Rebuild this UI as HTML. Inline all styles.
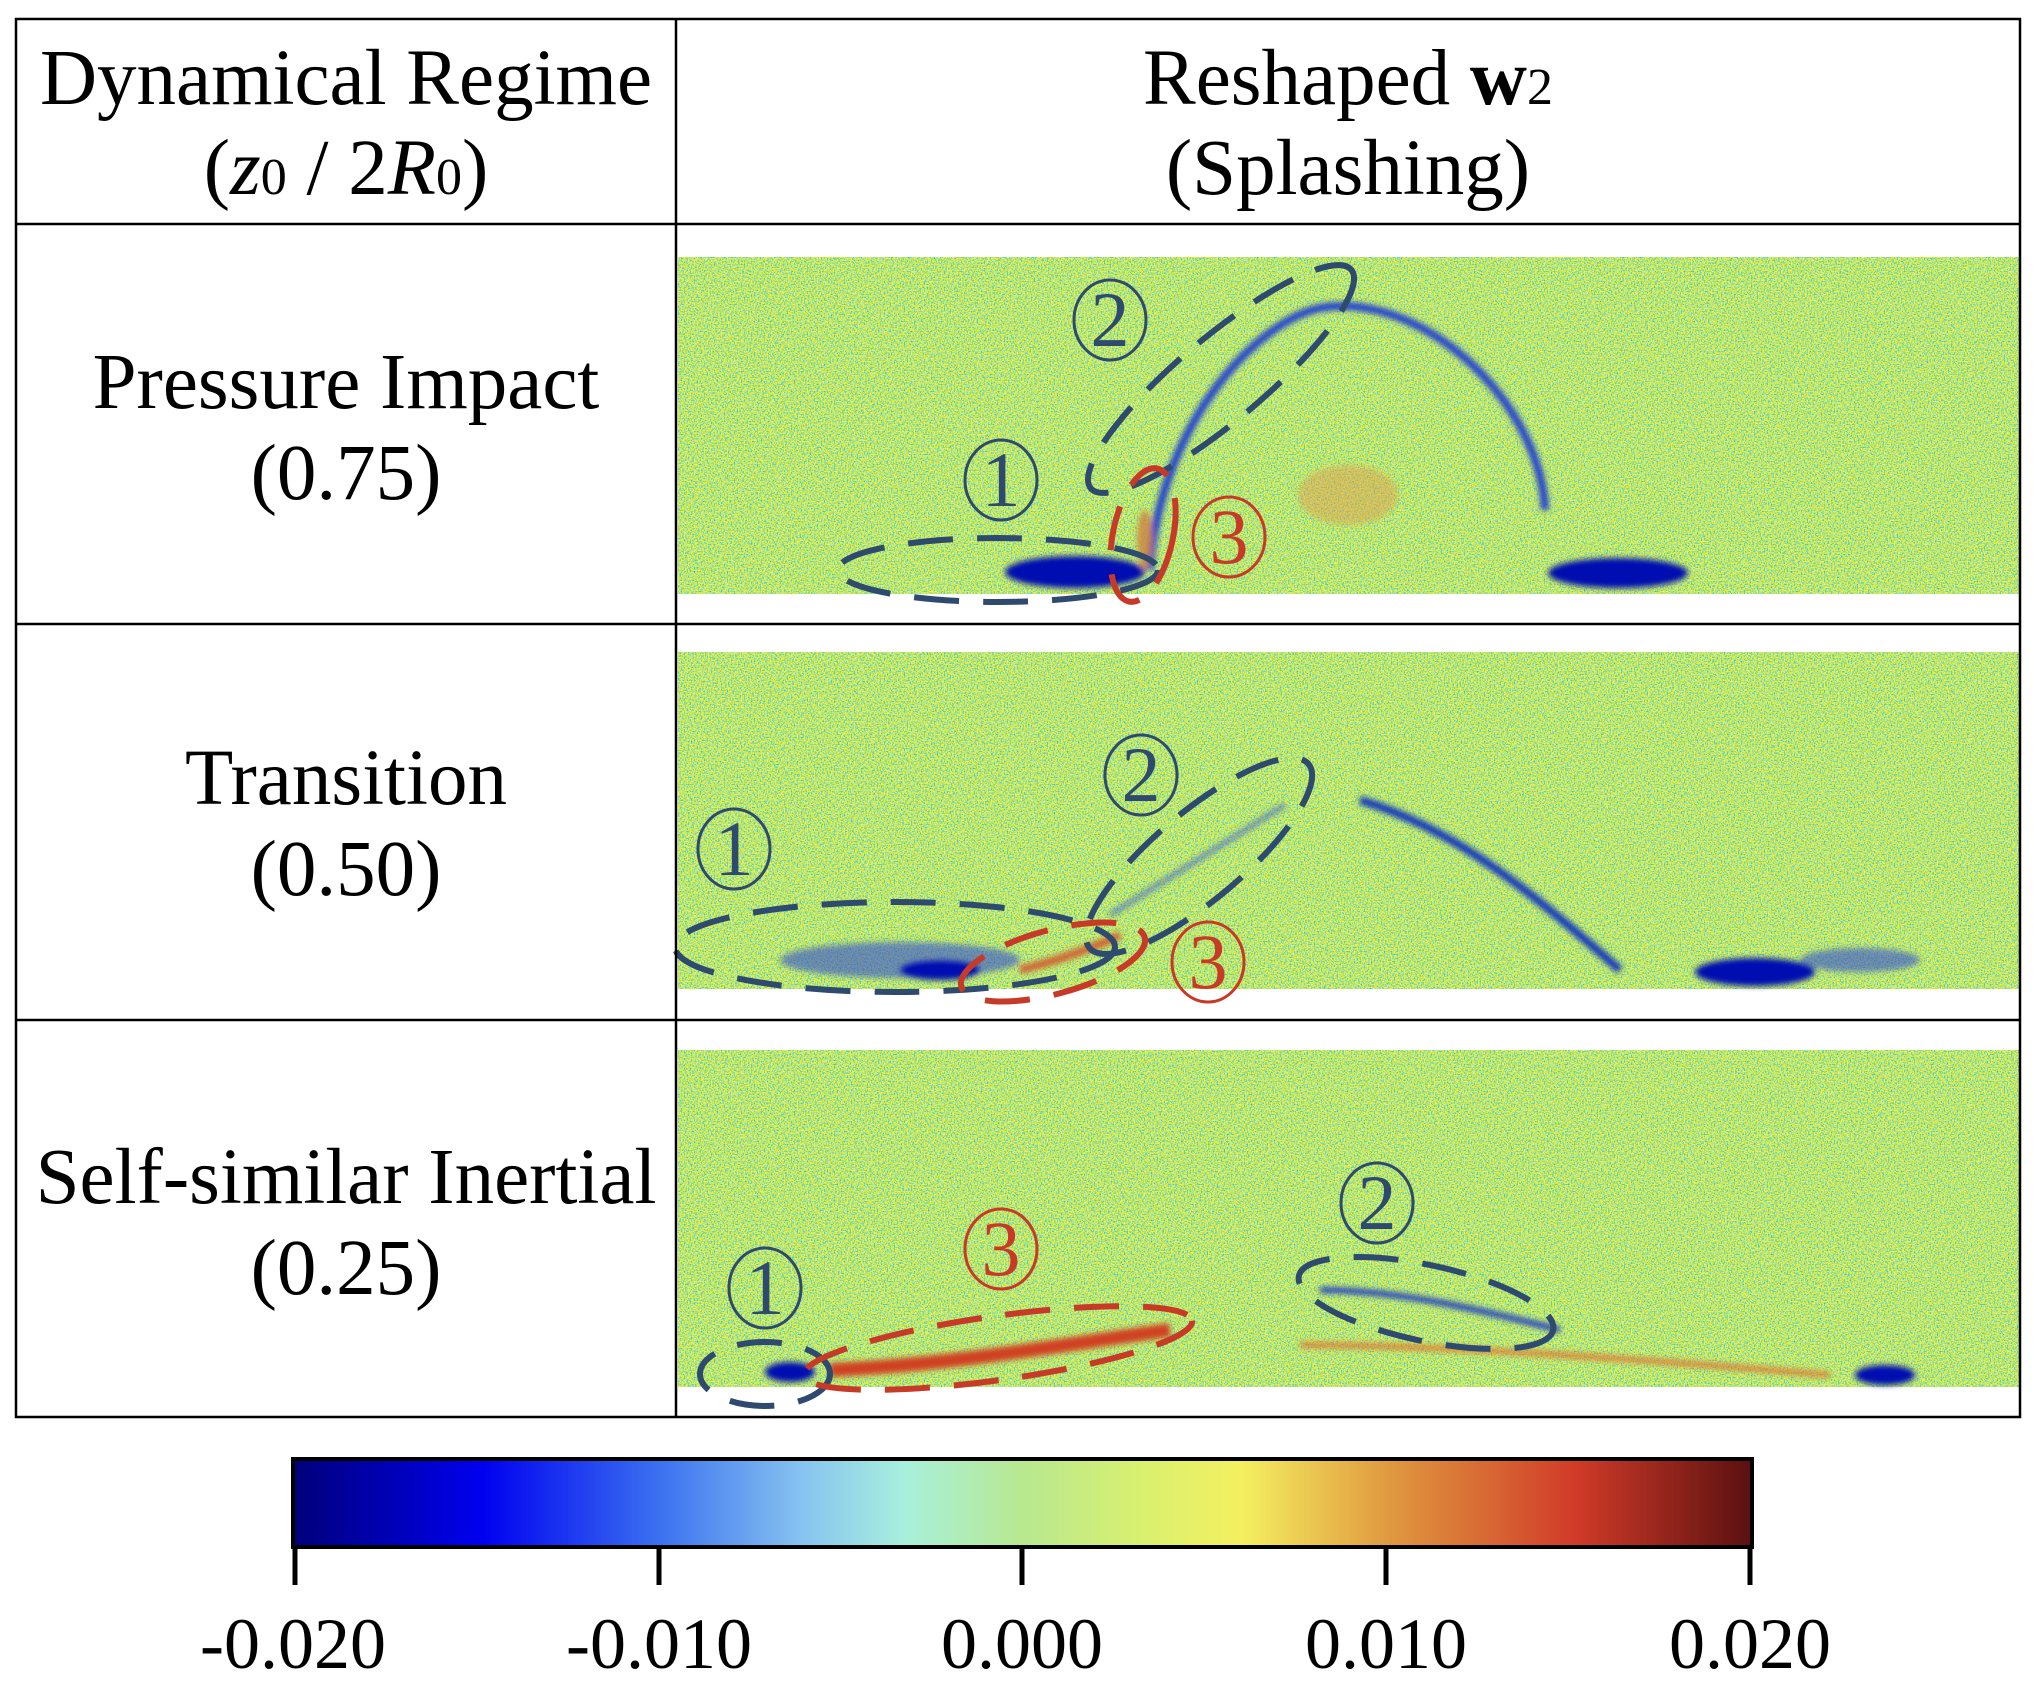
<!DOCTYPE html>
<html><head><meta charset="utf-8"><style>
html,body{margin:0;padding:0;background:#fff;}
svg{display:block;}
text{font-family:"Liberation Serif",serif;fill:#000;}
</style></head><body>
<svg width="2033" height="1695" viewBox="0 0 2033 1695" xmlns="http://www.w3.org/2000/svg">
<defs>
<filter id="noise" x="0" y="0" width="100%" height="100%">
<feTurbulence type="fractalNoise" baseFrequency="0.7" numOctaves="2" seed="3" result="t"/>
<feColorMatrix type="matrix" values="3 -1.5 0 0 -0.2  1.2 0.3 0 0 0.05  -2 3 0 0 -0.3  0 0 0 0 0.75" />
</filter>
<filter id="blur"><feGaussianBlur stdDeviation="3"/></filter>
<linearGradient id="jet" x1="0" x2="1" y1="0" y2="0">
<stop offset="0" stop-color="#00007a"/>
<stop offset="0.13" stop-color="#0000f0"/>
<stop offset="0.25" stop-color="#3a70f0"/>
<stop offset="0.35" stop-color="#88c4f0"/>
<stop offset="0.42" stop-color="#a8f0dc"/>
<stop offset="0.5" stop-color="#b8e890"/>
<stop offset="0.58" stop-color="#d8f070"/>
<stop offset="0.65" stop-color="#f4f060"/>
<stop offset="0.75" stop-color="#e09a40"/>
<stop offset="0.88" stop-color="#d03a28"/>
<stop offset="1" stop-color="#5a1010"/>
</linearGradient>
</defs>

<g>
<rect x="678" y="257" width="1341" height="337" fill="#c6e08c"/>
<rect x="678" y="257" width="1341" height="337" filter="url(#noise)"/>
<rect x="678" y="652" width="1341" height="337" fill="#c6e08c"/>
<rect x="678" y="652" width="1341" height="337" filter="url(#noise)"/>
<rect x="678" y="1050" width="1341" height="337" fill="#c6e08c"/>
<rect x="678" y="1050" width="1341" height="337" filter="url(#noise)"/>
</g>

<g filter="url(#blur)">
<ellipse cx="1075" cy="572" rx="70" ry="16" fill="#0010b0"/>
<ellipse cx="1618" cy="573" rx="70" ry="15" fill="#0010b0"/>
<path d="M1150 570 C1160 420 1260 320 1320 308 C1420 290 1540 400 1545 510" fill="none" stroke="#2040d0" stroke-width="8"/>
<ellipse cx="1348" cy="495" rx="50" ry="30" fill="#e0a050" opacity="0.5"/>
<ellipse cx="1145" cy="540" rx="8" ry="30" fill="#d08040" opacity="0.8"/>
</g>
<g filter="url(#blur)">
<ellipse cx="900" cy="960" rx="120" ry="18" fill="#3050d0" opacity="0.6"/>
<ellipse cx="940" cy="970" rx="40" ry="10" fill="#0010b0"/>
<path d="M1020 970 C1060 960 1100 945 1120 935" stroke="#d06030" stroke-width="8" fill="none"/>
<path d="M1110 915 L1285 805" stroke="#4060d0" stroke-width="5" fill="none" opacity="0.7"/>
<path d="M1360 800 C1460 830 1540 900 1620 970" stroke="#1030c0" stroke-width="8" fill="none"/>
<ellipse cx="1755" cy="972" rx="60" ry="14" fill="#0010b0"/>
<ellipse cx="1860" cy="960" rx="60" ry="12" fill="#3050d0" opacity="0.6"/>
</g>
<g filter="url(#blur)">
<path d="M830 1370 C950 1365 1060 1345 1170 1330" stroke="#d04020" stroke-width="14" fill="none"/>
<path d="M1320 1290 C1400 1290 1480 1310 1560 1330" stroke="#2040c0" stroke-width="6" fill="none"/>
<path d="M1300 1345 C1450 1345 1650 1360 1830 1375" stroke="#e07030" stroke-width="6" fill="none" opacity="0.8"/>
<ellipse cx="1885" cy="1375" rx="30" ry="10" fill="#0010b0"/>
<ellipse cx="790" cy="1372" rx="25" ry="10" fill="#0010b0"/>
</g>

<g fill="none" stroke-width="6" stroke-dasharray="45 24">
<ellipse cx="998" cy="570" rx="160" ry="32" stroke="#2e4a6e"/>
<ellipse cx="1221" cy="379" rx="170" ry="42" transform="rotate(-40 1221 379)" stroke="#2e4a6e"/>
<ellipse cx="1143" cy="535" rx="30" ry="68" transform="rotate(12 1143 535)" stroke="#c83a28"/>
<ellipse cx="895" cy="947" rx="220" ry="45" stroke="#2e4a6e"/>
<ellipse cx="1199" cy="856" rx="143" ry="44" transform="rotate(-40 1199 856)" stroke="#2e4a6e"/>
<ellipse cx="1053" cy="962" rx="95" ry="32" transform="rotate(-15 1053 962)" stroke="#c83a28"/>
<ellipse cx="765" cy="1374" rx="65" ry="32" stroke="#2e4a6e"/>
<ellipse cx="998" cy="1348" rx="196" ry="32" transform="rotate(-8 998 1348)" stroke="#c83a28"/>
<ellipse cx="1426" cy="1303" rx="130" ry="38" transform="rotate(12 1426 1303)" stroke="#2e4a6e"/>
</g>
<g font-size="78" text-anchor="middle" stroke-width="3" fill="none">
<ellipse cx="1001" cy="480" rx="36" ry="40" stroke="#2e4a6e"/><text x="1001" y="506" style="fill:#2e4a6e">1</text>
<ellipse cx="1110" cy="320" rx="36" ry="40" stroke="#2e4a6e"/><text x="1110" y="346" style="fill:#2e4a6e">2</text>
<ellipse cx="1229" cy="537" rx="36" ry="40" stroke="#c83a28"/><text x="1229" y="563" style="fill:#c83a28">3</text>
<ellipse cx="734" cy="849" rx="36" ry="40" stroke="#2e4a6e"/><text x="734" y="875" style="fill:#2e4a6e">1</text>
<ellipse cx="1141" cy="775" rx="36" ry="40" stroke="#2e4a6e"/><text x="1141" y="801" style="fill:#2e4a6e">2</text>
<ellipse cx="1208" cy="962" rx="36" ry="40" stroke="#c83a28"/><text x="1208" y="988" style="fill:#c83a28">3</text>
<ellipse cx="765" cy="1288" rx="36" ry="40" stroke="#2e4a6e"/><text x="765" y="1314" style="fill:#2e4a6e">1</text>
<ellipse cx="1001" cy="1249" rx="36" ry="40" stroke="#c83a28"/><text x="1001" y="1275" style="fill:#c83a28">3</text>
<ellipse cx="1377" cy="1203" rx="36" ry="40" stroke="#2e4a6e"/><text x="1377" y="1229" style="fill:#2e4a6e">2</text>
</g>

<g stroke="#000" stroke-width="2.5" fill="none">
<rect x="16" y="19" width="2004" height="1398"/>
<line x1="676" y1="19" x2="676" y2="1417"/>
<line x1="16" y1="224" x2="2020" y2="224"/>
<line x1="16" y1="624" x2="2020" y2="624"/>
<line x1="16" y1="1020" x2="2020" y2="1020"/>
</g>

<g font-size="79" text-anchor="middle">
<text x="346" y="104">Dynamical Regime</text>
<text x="346" y="194">(<tspan font-style="italic">z</tspan><tspan font-size="52">0</tspan> / 2<tspan font-style="italic">R</tspan><tspan font-size="52">0</tspan>)</text>
<text x="1348" y="104">Reshaped <tspan font-weight="bold">w</tspan><tspan font-size="52">2</tspan></text>
<text x="1348" y="194">(Splashing)</text>
<text x="346" y="408">Pressure Impact</text>
<text x="346" y="499">(0.75)</text>
<text x="346" y="804">Transition</text>
<text x="346" y="895">(0.50)</text>
<text x="346" y="1203">Self-similar Inertial</text>
<text x="346" y="1294">(0.25)</text>
</g>

<rect x="293" y="1459" width="1459" height="88" fill="url(#jet)" stroke="#000" stroke-width="4"/>
<g stroke="#000" stroke-width="5">
<line x1="295" y1="1547" x2="295" y2="1585"/>
<line x1="659" y1="1547" x2="659" y2="1585"/>
<line x1="1022" y1="1547" x2="1022" y2="1585"/>
<line x1="1386" y1="1547" x2="1386" y2="1585"/>
<line x1="1750" y1="1547" x2="1750" y2="1585"/>
</g>
<g font-size="72" text-anchor="middle">
<text x="293" y="1668">-0.020</text>
<text x="659" y="1668">-0.010</text>
<text x="1022" y="1668">0.000</text>
<text x="1386" y="1668">0.010</text>
<text x="1750" y="1668">0.020</text>
</g>
</svg>
</body></html>
